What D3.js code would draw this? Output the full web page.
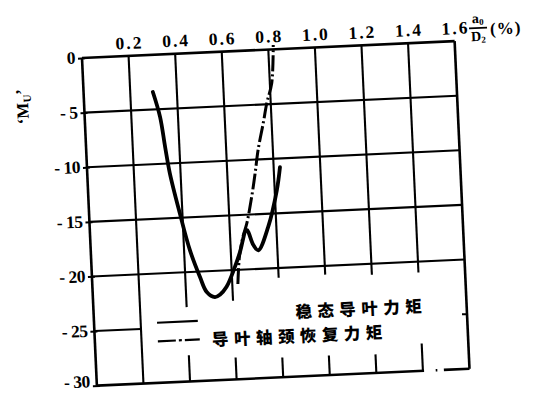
<!DOCTYPE html>
<html>
<head>
<meta charset="utf-8">
<script src="https://cdn.jsdelivr.net/npm/d3@7"></script>
<style>
  html, body { margin: 0; padding: 0; background: #fff; }
  svg { display: block; }
  .num { font-family: "Liberation Serif", "DejaVu Serif", serif; font-weight: bold; fill: #000; }
  .cjk { font-family: "Noto Sans CJK SC", sans-serif; font-weight: 900; fill: #000; }
</style>
</head>
<body>
<svg id="chart" width="550" height="393"></svg>
<script>
// Axis ticks
const xTicks = [0.2, 0.4, 0.6, 0.8, 1.0, 1.2, 1.4, 1.6];
const yTicks = [0, -5, -10, -15, -20, -25, -30];

// Steady-state guide vane moment (solid)
const steadyX = [0.297, 0.323, 0.339, 0.354, 0.389, 0.425, 0.463, 0.489, 0.523, 0.545, 0.575, 0.615, 0.639, 0.672, 0.698, 0.718, 0.765, 0.809, 0.827];
const steadyY = [-3.4, -5.7, -8.5, -10.9, -14.6, -18.0, -20.5, -21.9, -22.4, -22.2, -21.5, -19.7, -18.4, -16.4, -17.8, -18.3, -16.2, -12.9, -10.8];

// Journal restoring moment (dash-dot)
const journalX = [0.624, 0.636, 0.655, 0.674, 0.700, 0.719, 0.737, 0.764, 0.783, 0.808, 0.822];
const journalY = [-21.3, -18.8, -17.0, -15.8, -13.4, -11.3, -9.1, -6.7, -4.9, -3.1, 0.4];

const seriesNames = ["稳态导叶力矩", "导叶轴颈恢复力矩"];

const W = 373, H = 328;
const x = d3.scaleLinear().domain([0, 1.6]).range([0, W]);
const y = d3.scaleLinear().domain([0, -30]).range([0, H]);

const svg = d3.select("#chart");
svg.append("rect").attr("width", 550).attr("height", 393).attr("fill", "#fff");

// the whole plate sits slightly tilted
const g = svg.append("g").attr("transform", "translate(82,58) rotate(-2.6)");

const ink = "#000";

// grid: vertical lines, most of them stop just under the -20 line
const gridBottom = new Map([[0.2, -30], [0.4, -23.2], [0.6, -22.8], [0.8, -20.9], [1.0, -20.8], [1.2, -21.0], [1.4, -21.0]]);
g.append("g").selectAll("line").data(xTicks.slice(0, -1)).join("line")
  .attr("x1", d => x(d)).attr("x2", d => x(d))
  .attr("y1", y(0)).attr("y2", d => y(gridBottom.get(d)))
  .attr("stroke", ink).attr("stroke-width", 2.1);

// grid: horizontal lines
g.append("g").selectAll("line").data([-5, -10, -15, -20]).join("line")
  .attr("x1", x(0)).attr("x2", x(1.6))
  .attr("y1", d => y(d)).attr("y2", d => y(d))
  .attr("stroke", ink).attr("stroke-width", 2.1);
g.append("line")
  .attr("x1", x(0)).attr("x2", x(0.2)).attr("y1", y(-25)).attr("y2", y(-25))
  .attr("stroke", ink).attr("stroke-width", 2.1);

// short ticks standing on the bottom edge
const bottomTicks = [[0.4, 2.4], [0.6, 2.0], [0.8, 1.8], [1.0, 1.8], [1.2, 1.7], [1.4, 2.5]];
g.append("g").selectAll("line").data(bottomTicks).join("line")
  .attr("x1", d => x(d[0])).attr("x2", d => x(d[0]))
  .attr("y1", y(-30)).attr("y2", d => y(-30 + d[1]))
  .attr("stroke", ink).attr("stroke-width", 2.1);

// inward tick on the right edge
g.append("line")
  .attr("x1", x(1.6) - 5).attr("x2", x(1.6)).attr("y1", y(-25)).attr("y2", y(-25))
  .attr("stroke", ink).attr("stroke-width", 2);

// frame
const frame = g.append("g").attr("stroke", ink).attr("stroke-width", 2.6).attr("fill", "none");
frame.append("line").attr("x1", x(0)).attr("x2", x(1.6)).attr("y1", y(0)).attr("y2", y(0));
frame.append("line").attr("x1", x(0)).attr("x2", x(0)).attr("y1", y(0)).attr("y2", y(-30));
frame.append("line").attr("x1", x(1.6)).attr("x2", x(1.6)).attr("y1", y(0)).attr("y2", y(-30));
[[0, 1.405], [1.455, 1.462], [1.49, 1.6]].forEach(s => {
  frame.append("line").attr("x1", x(s[0])).attr("x2", x(s[1])).attr("y1", y(-30)).attr("y2", y(-30));
});

// top axis labels
const topAxis = d3.axisTop(x).tickValues(xTicks).tickSize(0).tickPadding(7)
  .tickFormat(d3.format(".1f"));
const ta = g.append("g").call(topAxis);
ta.select(".domain").remove();
ta.selectAll("text").attr("class", "num").attr("font-size", 17.5)
  .attr("letter-spacing", "2px").attr("dx", "1px").attr("fill", ink);

// left axis labels
const leftAxis = d3.axisLeft(y).tickValues(yTicks).tickSize(4).tickPadding(3)
  .tickFormat(d => d === 0 ? "0" : "- " + Math.abs(d));
const la = g.append("g").call(leftAxis);
la.select(".domain").remove();
la.selectAll(".tick line").attr("stroke", ink).attr("stroke-width", 2).attr("x2", -4).attr("x1", 3);
la.selectAll("text").attr("class", "num").attr("font-size", 17.5).attr("fill", ink)
  .attr("dy", d => d === -30 ? "0.05em" : "0.28em").attr("letter-spacing", "-0.5px");

// x-axis unit: a0/D2 (%)
const unit = g.append("g").attr("transform", `translate(${x(1.6) + 24},0)`);
unit.append("text").attr("class", "num").attr("font-size", 14).attr("text-anchor", "middle")
  .attr("y", -17).html('a<tspan font-size="9" dy="2">0</tspan>');
unit.append("line").attr("x1", -9).attr("x2", 9).attr("y1", -12).attr("y2", -12)
  .attr("stroke", ink).attr("stroke-width", 1.6);
unit.append("text").attr("class", "num").attr("font-size", 14).attr("text-anchor", "middle")
  .attr("y", 1).html('D<tspan font-size="9" dy="2">2</tspan>');
unit.append("text").attr("class", "num").attr("font-size", 17)
  .attr("x", 12).attr("y", -5).attr("letter-spacing", "1px").text("(%)");

// y-axis title M_U'
g.append("text").attr("class", "num").attr("font-size", 17)
  .attr("transform", `translate(-56,${y(-4.2)}) rotate(-90)`)
  .attr("text-anchor", "middle")
  .html('\u2018M<tspan font-size="11" dy="3">U</tspan><tspan dy="-3">\u2019</tspan>');

// curves
const line = d3.line().x(d => x(d[0])).y(d => y(d[1])).curve(d3.curveCatmullRom.alpha(0.5));
const steady = steadyX.map((v, i) => [v, steadyY[i]]);
const journal = journalX.map((v, i) => [v, journalY[i]]);

g.append("path").datum(journal).attr("d", line)
  .attr("fill", "none").attr("stroke", ink).attr("stroke-width", 3)
  .attr("stroke-dasharray", "16,3,2,3").attr("stroke-linecap", "butt");
g.append("path").datum(steady).attr("d", line)
  .attr("fill", "none").attr("stroke", ink).attr("stroke-width", 3.8)
  .attr("stroke-linejoin", "round").attr("stroke-linecap", "round");

// legend
g.append("line").attr("x1", x(0.27)).attr("x2", x(0.445)).attr("y1", y(-24.5)).attr("y2", y(-24.5))
  .attr("stroke", ink).attr("stroke-width", 2.2);
g.append("line").attr("x1", x(0.27)).attr("x2", x(0.45)).attr("y1", y(-26.2)).attr("y2", y(-26.2))
  .attr("stroke", ink).attr("stroke-width", 2.2).attr("stroke-dasharray", "18,3,3,3");
g.append("text").attr("class", "cjk").attr("font-size", 16.5).attr("letter-spacing", "5.5px")
  .attr("x", x(0.865)).attr("y", y(-24.1)).attr("dy", "0.36em").text(seriesNames[0]);
g.append("text").attr("class", "cjk").attr("font-size", 16.5).attr("letter-spacing", "5.5px")
  .attr("x", x(0.502)).attr("y", y(-26.3)).attr("dy", "0.36em").text(seriesNames[1]);
</script>
</body>
</html>
